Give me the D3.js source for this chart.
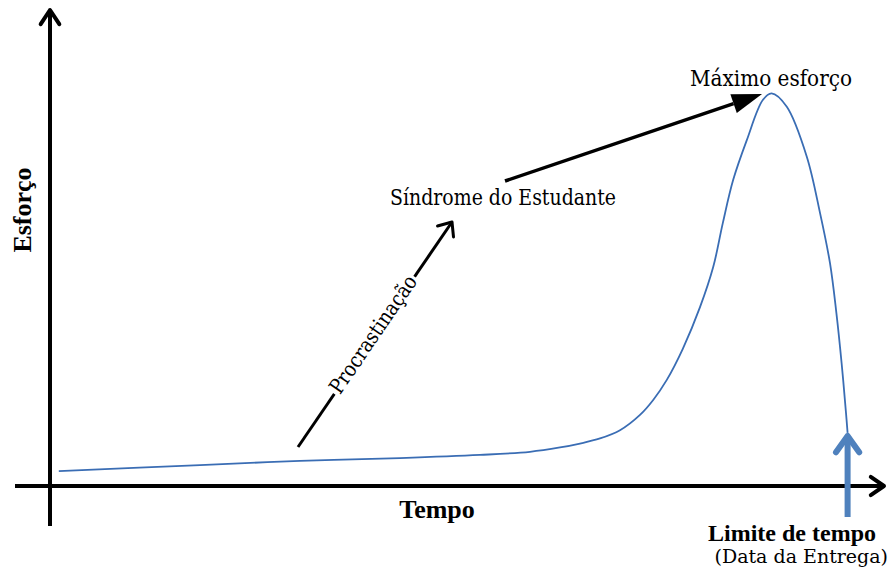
<!DOCTYPE html>
<html>
<head>
<meta charset="utf-8">
<script src="https://cdn.jsdelivr.net/npm/d3@7"></script>
<style>
  body { margin: 0; background: #fff; }
  text { font-family: "Liberation Serif", "DejaVu Serif"; fill: #000; }
  text.reg { font-family: "DejaVu Serif"; }
</style>
</head>
<body>
<svg width="892" height="575"></svg>
<script>
// effort curve (time 0..100, effort 0..100)
const tempo = [1.1, 18.75, 31.25, 43.75, 53.75, 60, 63.75, 66.25, 68.75, 71.25, 73.75, 75.4, 77.1, 79.1, 81.25, 82.9, 84.1, 85.4, 87.1, 89.1, 90.2, 92.1, 94.6, 96.25, 97.5, 98.3, 98.95, 99.5, 99.7];
const esforco = [3.8, 5.3, 6.4, 7.1, 7.9, 8.7, 9.8, 10.8, 12.1, 14.2, 18.1, 21.9, 27.0, 34.9, 45.5, 55.7, 66.9, 77.9, 88, 98.2, 99.9, 96.5, 83.8, 69.5, 56.7, 44, 31.3, 18.6, 13.5];
const prazo = 99.7;

const svg = d3.select('svg');
const width = +svg.attr('width');
const height = +svg.attr('height');

const xScale = d3.scaleLinear().domain([0, 100]).range([50, 850]);
const yScale = d3.scaleLinear().domain([0, 100]).range([486, 93]);

const data = tempo.map((t, i) => ({t: t, e: esforco[i]}));

// chevron head helper
const chevron = (g, tip, ang, len, spread, color, sw) => {
  const a1 = ang + Math.PI - spread, a2 = ang + Math.PI + spread;
  const pts = [
    [tip[0] + len * Math.cos(a1), tip[1] + len * Math.sin(a1)],
    tip,
    [tip[0] + len * Math.cos(a2), tip[1] + len * Math.sin(a2)]
  ];
  g.append('path').attr('d', d3.line()(pts))
    .attr('fill', 'none').attr('stroke', color).attr('stroke-width', sw)
    .attr('stroke-linecap', 'round').attr('stroke-linejoin', 'round');
};

// axes
const x0 = xScale(0), y0 = yScale(0);
svg.append('line').attr('x1', 15).attr('y1', y0).attr('x2', 884).attr('y2', y0)
  .attr('stroke', '#000').attr('stroke-width', 4);
chevron(svg, [884, y0], 0, 16, 0.6, '#000', 4);
svg.append('line').attr('x1', x0).attr('y1', 526).attr('x2', x0).attr('y2', 10)
  .attr('stroke', '#000').attr('stroke-width', 4);
chevron(svg, [x0, 10], -Math.PI / 2, 17, 0.58, '#000', 4);

// curve
svg.append('path').datum(data)
  .attr('d', d3.line().x(d => xScale(d.t)).y(d => yScale(d.e)).curve(d3.curveCatmullRom))
  .attr('fill', 'none').attr('stroke', '#3a6db4').attr('stroke-width', 1.8);

// deadline arrow
const xd = xScale(prazo);
svg.append('line').attr('x1', xd).attr('y1', 517).attr('x2', xd).attr('y2', 437)
  .attr('stroke', '#4f81bd').attr('stroke-width', 6);
chevron(svg, [xd, 436], -Math.PI / 2, 20, 0.62, '#4f81bd', 6);

// procrastination arrow
const p1 = [298, 447], p2 = [452, 222];
svg.append('line').attr('x1', p1[0]).attr('y1', p1[1]).attr('x2', p2[0]).attr('y2', p2[1])
  .attr('stroke', '#000').attr('stroke-width', 3);
const pAng = Math.atan2(p2[1] - p1[1], p2[0] - p1[0]);
chevron(svg, p2, pAng, 15, 0.7, '#000', 3);
const pc = [374, 335];
const pg = svg.append('g').attr('transform', `translate(${pc[0]},${pc[1]}) rotate(${pAng * 180 / Math.PI})`);
pg.append('rect').attr('x', -71).attr('y', -14).attr('width', 142).attr('height', 24).attr('fill', '#fff');
pg.append('text').attr('class', 'reg').attr('text-anchor', 'middle').attr('y', 6).attr('font-size', 21)
  .attr('textLength', 138).attr('lengthAdjust', 'spacingAndGlyphs').text('Procrastinação');

// síndrome -> máximo arrow
const s1 = [505, 181], s2 = [762, 94];
const sAng = Math.atan2(s2[1] - s1[1], s2[0] - s1[0]);
const hl = 30, hw = 10;
const bx = s2[0] - hl * Math.cos(sAng), by = s2[1] - hl * Math.sin(sAng);
svg.append('line').attr('x1', s1[0]).attr('y1', s1[1]).attr('x2', bx).attr('y2', by)
  .attr('stroke', '#000').attr('stroke-width', 3.5);
svg.append('path')
  .attr('d', d3.line()([
    s2,
    [bx + hw * Math.sin(sAng), by - hw * Math.cos(sAng)],
    [bx - hw * Math.sin(sAng), by + hw * Math.cos(sAng)]
  ]) + 'Z')
  .attr('fill', '#000');

// labels
svg.append('text').attr('class', 'reg').attr('x', 390).attr('y', 205)
  .attr('font-size', 22).attr('textLength', 226).attr('lengthAdjust', 'spacingAndGlyphs')
  .text('Síndrome do Estudante');
svg.append('text').attr('class', 'reg').attr('x', 690).attr('y', 86)
  .attr('font-size', 22).attr('textLength', 162).attr('lengthAdjust', 'spacingAndGlyphs')
  .text('Máximo esforço');
svg.append('text').attr('x', 437).attr('y', 518).attr('text-anchor', 'middle')
  .attr('font-size', 26).attr('font-weight', 'bold').text('Tempo');
svg.append('text').attr('transform', 'translate(31,210) rotate(-90)').attr('text-anchor', 'middle')
  .attr('font-size', 26).attr('font-weight', 'bold').text('Esforço');
svg.append('text').attr('x', 876).attr('y', 541).attr('text-anchor', 'end')
  .attr('font-size', 24).attr('font-weight', 'bold').text('Limite de tempo');
svg.append('text').attr('class', 'reg').attr('x', 888).attr('y', 563).attr('text-anchor', 'end')
  .attr('font-size', 19).text('(Data da Entrega)');
</script>
</body>
</html>
